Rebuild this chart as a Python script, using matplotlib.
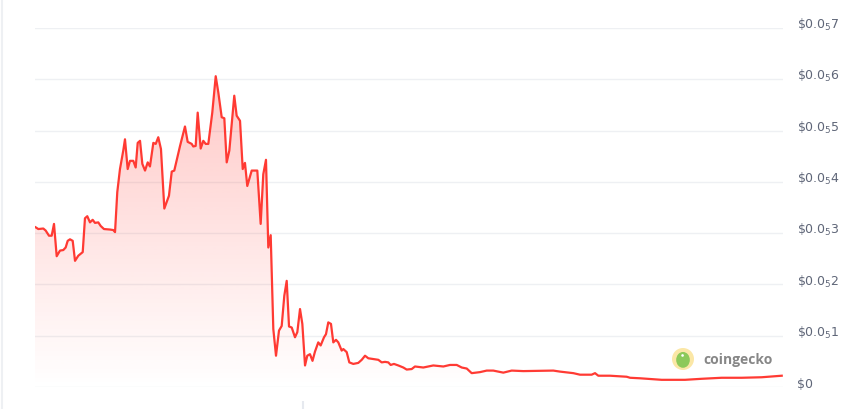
import numpy as np
import matplotlib
matplotlib.use('Agg')
import matplotlib.pyplot as plt
from matplotlib.patches import Circle, Polygon, Ellipse
from matplotlib.lines import Line2D
from matplotlib.colors import to_rgb

# ---- data (x: share of time range, y: price in units of $0.000001) ----
days = [0.0, 0.13, 0.44, 1.11, 1.43, 1.87, 2.23, 2.54, 2.90, 3.34, 3.78, 4.10, 4.37, 4.68, 5.04,
        5.35, 5.79, 6.38, 6.68, 6.99, 7.35, 7.71, 8.02, 8.46, 8.78, 9.22, 10.03, 10.47, 10.70,
        11.00, 11.36, 11.80, 12.03, 12.39, 12.70, 13.14, 13.46, 13.73, 14.04, 14.35, 14.71,
        15.07, 15.37, 15.82, 16.14, 16.48, 16.84, 17.29, 17.91, 18.28, 18.62, 19.39, 20.05,
        20.41, 20.95, 21.16, 21.48, 21.75, 22.15, 22.50, 22.82, 23.17, 23.70, 24.16, 24.51,
        24.96, 25.31, 25.63, 25.98, 26.64, 26.96, 27.41, 27.77, 28.07, 28.38, 28.97, 29.72,
        30.17, 30.52, 30.88, 31.19, 31.51, 31.86, 32.22, 32.62, 32.98, 33.33, 33.65, 33.96,
        34.32, 34.76, 35.07, 35.43, 35.74, 36.10, 36.40, 36.76, 37.10, 37.43, 37.87, 38.19,
        38.64, 38.90, 39.21, 39.57, 39.88, 40.24, 40.55, 41.00, 41.22, 41.67, 42.02, 42.55,
        43.22, 43.68, 44.12, 44.56, 45.01, 45.90, 46.35, 46.79, 47.23, 47.55, 47.99, 48.57,
        49.24, 49.69, 50.36, 50.80, 51.91, 53.25, 54.59, 55.48, 56.38, 57.05, 57.72, 58.38,
        59.49, 60.39, 61.27, 61.94, 62.61, 63.73, 65.28, 69.29, 70.19, 71.97, 72.86, 74.42,
        74.87, 75.31, 76.87, 77.98, 79.10, 79.55, 80.88, 83.78, 86.90, 89.13, 91.80, 94.48,
        97.15, 99.83]
price_e6 = [3.12, 3.11, 3.08, 3.09, 3.05, 2.95, 2.95, 3.18, 2.55, 2.66, 2.67, 2.72, 2.85, 2.88, 2.85,
            2.46, 2.56, 2.63, 3.29, 3.33, 3.21, 3.26, 3.20, 3.21, 3.14, 3.08, 3.07, 3.06, 3.02,
            3.80, 4.25, 4.61, 4.83, 4.25, 4.41, 4.41, 4.28, 4.76, 4.80, 4.35, 4.22,
            4.38, 4.30, 4.76, 4.74, 4.87, 4.64, 3.48, 3.73, 4.20, 4.22, 4.70, 5.08,
            4.78, 4.74, 4.69, 4.70, 5.35, 4.65, 4.80, 4.74, 4.74, 5.35, 6.06, 5.74,
            5.26, 5.24, 4.38, 4.61, 5.68, 5.29, 5.19, 4.25, 4.37, 3.92, 4.22, 4.22,
            3.18, 4.15, 4.43, 2.72, 2.96, 1.13, 0.61, 1.10, 1.19, 1.78, 2.07, 1.18,
            1.16, 0.97, 1.07, 1.52, 1.23, 0.42, 0.61, 0.64, 0.51, 0.69, 0.87, 0.81,
            0.97, 1.03, 1.26, 1.23, 0.87, 0.92, 0.87, 0.71, 0.74, 0.68, 0.48, 0.45,
            0.47, 0.53, 0.61, 0.56, 0.55, 0.53, 0.48, 0.49, 0.48, 0.43, 0.45, 0.42,
            0.38, 0.34, 0.35, 0.40, 0.38, 0.42, 0.40, 0.43, 0.43, 0.38, 0.36, 0.27,
            0.29, 0.32, 0.32, 0.30, 0.28, 0.32, 0.31, 0.32, 0.30, 0.27, 0.24, 0.24,
            0.27, 0.22, 0.22, 0.21, 0.20, 0.18, 0.17, 0.14, 0.14, 0.16, 0.18, 0.18,
            0.19, 0.22]
ytick_vals = [0, 1, 2, 3, 4, 5, 6, 7]
ytick_labels = [r'\$0'] + [r'$\$0.0_5%d$' % v for v in ytick_vals[1:]]
xtick_days = [35.8]

line_color = '#ff3a33'
label_color = '#5f6678'
grid_color = '#eef0f3'

fig = plt.figure(figsize=(8.5, 4.1), dpi=100)
fig.patch.set_facecolor('white')
W, H = 850, 410
ax = fig.add_axes([35 / W, 22 / H, 748 / W, 359 / H])
ax.set_xlim(0, 100)
ax.set_ylim(0, 7)

# gradient fill under the line
grad = np.zeros((256, 1, 4))
grad[..., :3] = to_rgb(line_color)
grad[..., 3] = np.linspace(0.32, 0.0, 256)[:, None]
im = ax.imshow(grad, extent=[0, 100, 0, 7], aspect='auto', origin='upper', zorder=1,
               interpolation='bilinear')
verts = np.column_stack([days, price_e6])
verts = np.vstack([verts, [[days[-1], 0], [days[0], 0]]])
clip = Polygon(verts, closed=True, facecolor='none', edgecolor='none')
ax.add_patch(clip)
im.set_clip_path(clip)

ax.plot(days, price_e6, color=line_color, lw=1.6, zorder=3, solid_joinstyle='round')

# axes styling
for s in ax.spines.values():
    s.set_visible(False)
ax.spines['bottom'].set_position(('outward', 10))
ax.grid(axis='y', color=grid_color, lw=1.0, zorder=0)
ax.set_axisbelow(True)
ax.yaxis.tick_right()
ax.set_yticks(ytick_vals)
ax.set_yticklabels(ytick_labels)
ax.tick_params(axis='y', length=0, pad=10, labelsize=9, labelcolor=label_color)
for lab in ax.get_yticklabels():
    lab.set_va('baseline')
ax.set_xticks(xtick_days)
ax.tick_params(axis='x', length=7.5, width=1.5, color='#e6e9ef', labelbottom=False)

# faint left border
fig.add_artist(Line2D([1.5 / W, 1.5 / W], [0, 1], color='#eef0f3', lw=1.5))

# coingecko watermark
lax = fig.add_axes([672 / W, (H - 371) / H, 22 / W, 22 / H])
lax.set_xlim(0, 1)
lax.set_ylim(0, 1)
lax.axis('off')
lax.add_patch(Circle((0.5, 0.5), 0.5, facecolor='#fbe7a6', edgecolor='none'))
lax.add_patch(Ellipse((0.5, 0.46), 0.62, 0.72, facecolor='#8dc95a', edgecolor='none'))
lax.add_patch(Circle((0.48, 0.66), 0.06, facecolor='white', edgecolor='none'))
fig.text(703 / W, (H - 360) / H, 'coingecko', fontsize=10, fontweight='bold',
         color='#878787', va='center', ha='left', family='Open Sans')

fig.savefig('out.png', dpi=100, facecolor='white')
